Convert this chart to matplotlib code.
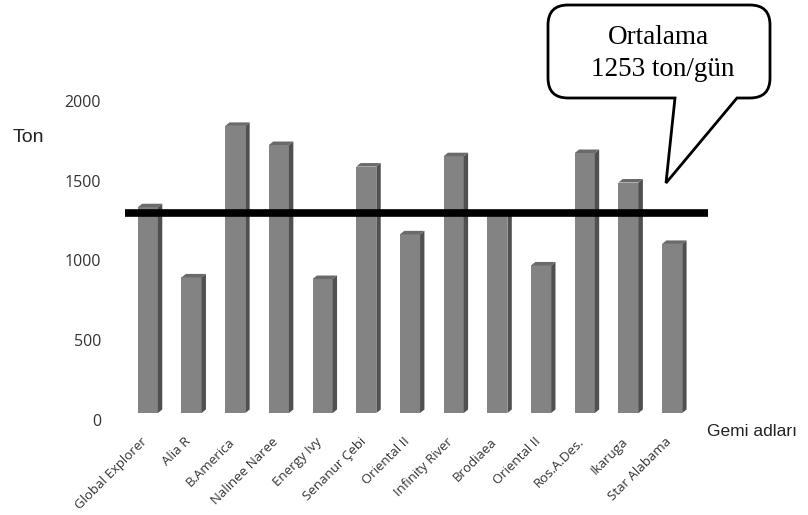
import matplotlib
matplotlib.use("Agg")
import matplotlib.pyplot as plt
from matplotlib.patches import Polygon
from matplotlib.path import Path
from matplotlib.patches import PathPatch
import matplotlib.transforms as mtransforms

ships = ["Global Explorer", "Alia R", "B.America", "Nalinee Naree", "Energy Ivy",
         "Senanur Çebi", "Oriental II", "Infinity River", "Brodiaea", "Oriental II",
         "Ros.A.Des.", "Ikaruga", "Star Alabama"]
tons = [1290, 850, 1800, 1680, 840, 1545, 1120, 1610, 1250, 925, 1630, 1445, 1060]
average = 1253
yticks = [0, 500, 1000, 1500, 2000]

W, H = 808, 515
fig = plt.figure(figsize=(W / 100, H / 100), dpi=100)
ax = fig.add_axes([126 / W, (H - 413) / H, 568 / W, 319 / H])
ax.set_xlim(-0.5, len(ships) - 0.5)
ax.set_ylim(0, 2000)
for s in ax.spines.values():
    s.set_visible(False)

front, side, top = "#838383", "#505050", "#6a6a6a"
w = 0.46
dx, dy = 0.10, 22
for i, v in enumerate(tons):
    ax.bar(i, v, width=w, color=front, edgecolor="none", zorder=2)
    ax.add_patch(Polygon([(i + w / 2, 0), (i + w / 2, v), (i + w / 2 + dx, v + dy),
                          (i + w / 2 + dx, dy)], closed=True, color=side, lw=0, zorder=2))
    ax.add_patch(Polygon([(i - w / 2, v), (i + w / 2, v), (i + w / 2 + dx, v + dy),
                          (i - w / 2 + dx, v + dy)], closed=True, color=top, lw=0, zorder=2))

# average line across the chart
ax.plot([-0.52, 12.82], [average, average], color="black", lw=5.5,
        solid_capstyle="butt", clip_on=False, zorder=5)

ax.set_yticks(yticks)
ax.set_yticklabels([str(t) for t in yticks], fontfamily="Open Sans", fontsize=11.5,
                   color="#333333")
ax.tick_params(axis="y", length=0, pad=26)
shift_y = mtransforms.ScaledTranslation(11 / 100, -7 / 100, fig.dpi_scale_trans)
for lab in ax.get_yticklabels():
    lab.set_transform(lab.get_transform() + shift_y)

ax.set_xticks(range(len(ships)))
ax.set_xticklabels(ships, rotation=45, ha="right", rotation_mode="anchor",
                   fontfamily="Open Sans", fontsize=9.5, color="#333333")
ax.tick_params(axis="x", length=0, pad=16)
left = mtransforms.ScaledTranslation(-7 / 100, 0, fig.dpi_scale_trans)
for lab in ax.get_xticklabels():
    lab.set_transform(lab.get_transform() + left)

# overlay in pixel coordinates for labels and callout
ov = fig.add_axes([0, 0, 1, 1])
ov.set_xlim(0, W)
ov.set_ylim(H, 0)
ov.axis("off")
ov.patch.set_alpha(0)

ov.text(13, 137, "Ton", fontfamily="Liberation Sans", fontsize=14, color="#222222",
        ha="left", va="center")
ov.text(707, 431, "Gemi adları", fontfamily="Liberation Sans", fontsize=12.5,
        color="#222222", ha="left", va="center")

# speech bubble with tail
L, R, T, B, r = 548, 770, 5, 98, 20
tl, tr, tip = 675, 737, (666, 183)
verts = [
    (L + r, T), (R - r, T), (R, T), (R, T + r),
    (R, B - r), (R, B), (R - r, B),
    (tr, B), tip, (tl, B),
    (L + r, B), (L, B), (L, B - r),
    (L, T + r), (L, T), (L + r, T),
    (L + r, T),
]
codes = [
    Path.MOVETO, Path.LINETO, Path.CURVE3, Path.CURVE3,
    Path.LINETO, Path.CURVE3, Path.CURVE3,
    Path.LINETO, Path.LINETO, Path.LINETO,
    Path.LINETO, Path.CURVE3, Path.CURVE3,
    Path.LINETO, Path.CURVE3, Path.CURVE3,
    Path.CLOSEPOLY,
]
ov.add_patch(PathPatch(Path(verts, codes), facecolor="white", edgecolor="black",
                       lw=2.0, joinstyle="miter", zorder=6))
ov.text(658, 38, "Ortalama", fontfamily="Liberation Serif", fontsize=19.5,
        ha="center", va="center", zorder=7)
ov.text(663, 70, f"{average} ton/gün", fontfamily="Liberation Serif", fontsize=19.5,
        ha="center", va="center", zorder=7)

fig.savefig("out.png", dpi=100)
